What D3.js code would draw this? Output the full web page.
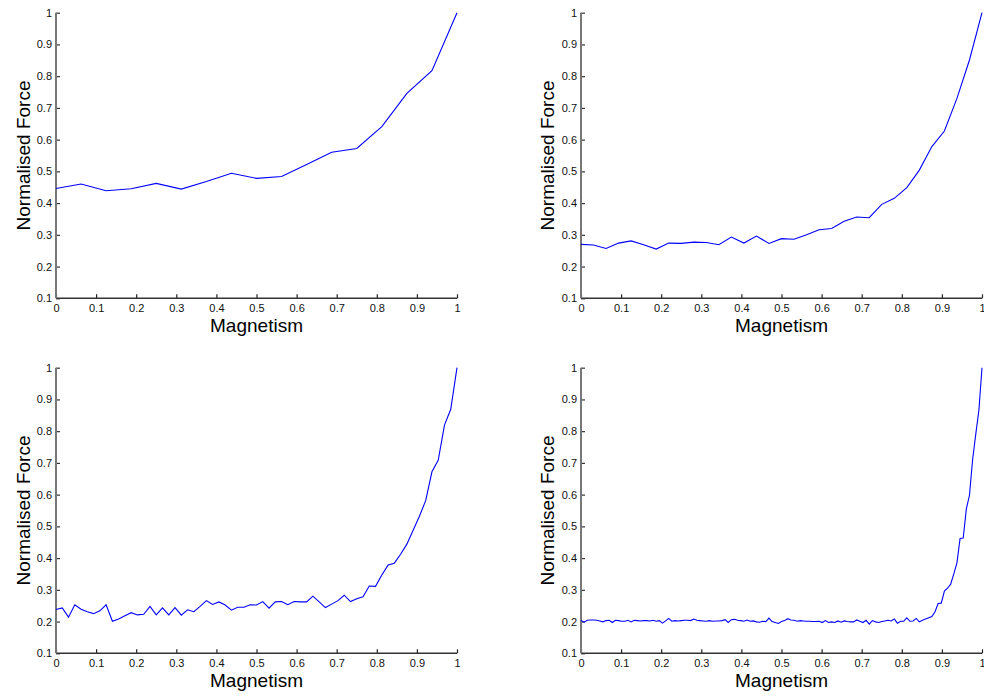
<!DOCTYPE html>
<html><head><meta charset="utf-8">
<script src="https://cdn.jsdelivr.net/npm/d3@7"></script>
<style>
html,body{margin:0;padding:0;background:#fff;}
svg{display:block;font-family:"Liberation Sans",Arial,Helvetica,sans-serif;}
</style></head>
<body>
<svg id="chart" width="984" height="696"></svg>
<script>
// ---- data ----
const xTickValues = [0,0.1,0.2,0.3,0.4,0.5,0.6,0.7,0.8,0.9,1];
const xTickLabels = ["0","0.1","0.2","0.3","0.4","0.5","0.6","0.7","0.8","0.9","1"];
const yTickValues = [0.1,0.2,0.3,0.4,0.5,0.6,0.7,0.8,0.9,1];
const yTickLabels = ["0.1","0.2","0.3","0.4","0.5","0.6","0.7","0.8","0.9","1"];
const xLabel = "Magnetism";
const yLabel = "Normalised Force";

// panel 1: 17 samples (step 1/16)
const force16 = [0.446,0.460,0.439,0.445,0.462,0.444,0.468,0.494,0.478,0.484,0.522,0.560,0.572,0.641,0.746,0.817,1.0];
// panel 2: 33 samples (step 1/32)
const force32 = [0.270,0.268,0.257,0.274,0.281,0.269,0.255,0.274,0.273,0.277,0.276,0.269,0.293,0.274,0.296,0.273,
                 0.288,0.286,0.300,0.316,0.320,0.343,0.356,0.354,0.396,0.415,0.449,0.504,0.578,0.627,0.730,0.851,1.0];
// panel 3: 65 samples (step 1/64)
const force64 = [0.238,0.243,0.214,0.253,0.239,0.231,0.225,0.234,0.253,0.201,0.208,0.218,0.228,0.221,0.223,0.248,
                 0.221,0.243,0.221,0.244,0.220,0.237,0.231,0.248,0.266,0.254,0.262,0.252,0.236,0.245,0.245,0.253,
                 0.252,0.263,0.242,0.262,0.263,0.253,0.263,0.262,0.262,0.280,0.262,0.244,0.255,0.266,0.283,0.263,
                 0.272,0.278,0.312,0.311,0.347,0.378,0.384,0.412,0.444,0.488,0.532,0.581,0.672,0.708,0.819,0.869,1.0];
// panel 4: 129 samples (step 1/128)
const force128 = [0.203,0.198,0.204,0.205,0.205,0.204,0.202,0.199,0.203,0.204,0.197,0.204,0.203,0.201,0.201,0.204,
                  0.199,0.204,0.203,0.202,0.203,0.203,0.202,0.204,0.201,0.203,0.195,0.202,0.210,0.201,0.203,0.202,
                  0.203,0.204,0.204,0.203,0.208,0.204,0.203,0.202,0.201,0.203,0.201,0.202,0.202,0.203,0.206,0.197,
                  0.206,0.207,0.204,0.203,0.201,0.205,0.201,0.202,0.199,0.198,0.201,0.200,0.211,0.200,0.197,0.194,
                  0.200,0.203,0.209,0.205,0.204,0.201,0.203,0.202,0.201,0.201,0.200,0.200,0.201,0.197,0.203,0.197,
                  0.199,0.197,0.202,0.198,0.202,0.200,0.199,0.199,0.205,0.201,0.197,0.204,0.192,0.203,0.199,0.197,
                  0.200,0.202,0.204,0.202,0.208,0.195,0.201,0.201,0.212,0.201,0.202,0.210,0.199,0.204,0.208,0.212,
                  0.216,0.231,0.257,0.258,0.296,0.305,0.318,0.350,0.385,0.462,0.463,0.555,0.598,0.710,0.790,0.865,1.0];

const seriesList = [force16, force32, force64, force128];

// ---- layout ----
const panels = [
  {x0:56,  x1:457, y0:298.3, y1:12.7,  labX:30,  data:seriesList[0]},
  {x0:581, x1:982, y0:298.3, y1:12.7,  labX:554, data:seriesList[1]},
  {x0:56,  x1:457, y0:653.3, y1:367.7, labX:30,  data:seriesList[2]},
  {x0:581, x1:982, y0:653.3, y1:367.7, labX:554, data:seriesList[3]}
];

const svg = d3.select("#chart");

panels.forEach(p => {
  const n = p.data.length - 1;
  const pts = p.data.map((v,i) => ({m: i/n, f: v}));
  const x = d3.scaleLinear().domain([0,1]).range([p.x0, p.x1]);
  const y = d3.scaleLinear().domain([0.1,1]).range([p.y0, p.y1]);
  const g = svg.append("g");

  // x axis
  const xa = g.append("g").attr("transform", `translate(0,${p.y0})`)
    .call(d3.axisBottom(x).tickValues(xTickValues)
      .tickFormat((d,i) => xTickLabels[i]).tickSizeInner(-4).tickSizeOuter(0).tickPadding(6));
  xa.select(".domain").remove();
  xa.selectAll("line").attr("stroke","#222").attr("stroke-width",1.2);
  xa.selectAll("text").attr("font-size",11).attr("fill","#111")
    .attr("font-family","Liberation Sans, Arial, sans-serif");

  // y axis
  const ya = g.append("g").attr("transform", `translate(${p.x0},0)`)
    .call(d3.axisLeft(y).tickValues(yTickValues)
      .tickFormat((d,i) => yTickLabels[i]).tickSizeInner(-4).tickSizeOuter(0).tickPadding(4));
  ya.select(".domain").remove();
  ya.selectAll("line").attr("stroke","#333").attr("stroke-width",1.2);
  ya.selectAll("text").attr("font-size",11).attr("fill","#111")
    .attr("font-family","Liberation Sans, Arial, sans-serif");

  // axis lines
  g.append("line").attr("x1",p.x0).attr("x2",p.x1).attr("y1",p.y0).attr("y2",p.y0)
    .attr("stroke","#333").attr("stroke-width",1.6);
  g.append("line").attr("x1",p.x0).attr("x2",p.x0).attr("y1",p.y0).attr("y2",p.y1)
    .attr("stroke","#777").attr("stroke-width",2);

  // data line
  g.append("path").datum(pts)
    .attr("fill","none").attr("stroke","#0000ff").attr("stroke-width",1.1)
    .attr("d", d3.line().x(d => x(d.m)).y(d => y(d.f)));

  // labels
  g.append("text").attr("x",(p.x0+p.x1)/2).attr("y",p.y0+33.5)
    .attr("text-anchor","middle").attr("font-size",19).attr("fill","#000").text(xLabel);
  g.append("text")
    .attr("transform",`translate(${p.labX},${(p.y0+p.y1)/2}) rotate(-90)`)
    .attr("text-anchor","middle").attr("font-size",19).attr("fill","#000").text(yLabel);
});
</script>
</body></html>
